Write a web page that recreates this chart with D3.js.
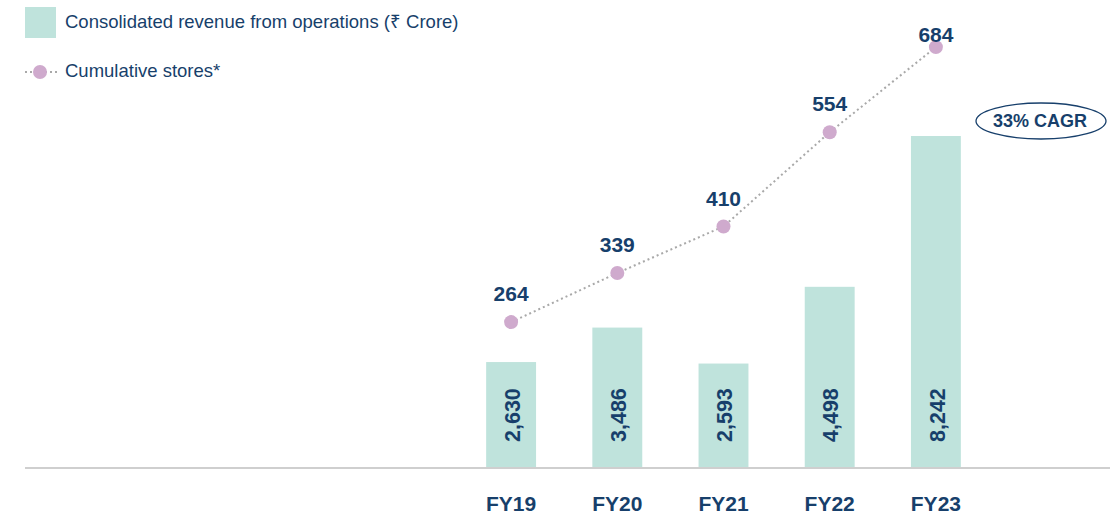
<!DOCTYPE html>
<html><head><meta charset="utf-8">
<script src="https://cdn.jsdelivr.net/npm/d3@7"></script>
<style>
html,body{margin:0;padding:0;background:#fff;}
svg{display:block;font-family:"Liberation Sans",Arial,Helvetica,sans-serif;}
</style></head>
<body><svg id="chart" width="1110" height="515"></svg>
<script>
const categories = ["FY19","FY20","FY21","FY22","FY23"];
const revenue = [2630, 3486, 2593, 4498, 8242];
const revenueLabels = ["2,630","3,486","2,593","4,498","8,242"];
const stores = [264, 339, 410, 554, 684];
const legendLabels = ["Consolidated revenue from operations (\u20B9 Crore)", "Cumulative stores*"];
const cagrLabel = "33% CAGR";

const navy = "#173f6b", barColor = "#bfe3dc", dotColor = "#cfaacd", lineGray = "#a9a9a9";
const svg = d3.select("#chart");
const baseY = 468;

const x = d3.scaleBand().domain(categories).range([458, 989]).paddingInner(0.53).paddingOuter(0.265);
const yBar = d3.scaleLinear().domain([0, 8242]).range([baseY, 136]);
const yLine = d3.scaleLinear().domain([0, 700]).range([495, 36.6]);
const cx = d => x(d) + x.bandwidth()/2;

// bars
svg.append("g").selectAll("rect").data(categories).join("rect")
  .attr("x", d => x(d)).attr("width", x.bandwidth())
  .attr("y", (d,i) => yBar(revenue[i])).attr("height", (d,i) => baseY - yBar(revenue[i]))
  .attr("fill", barColor);

// axis line
svg.append("line").attr("x1", 25).attr("x2", 1110).attr("y1", baseY).attr("y2", baseY)
  .attr("stroke", "#cfcfcf").attr("stroke-width", 2);

// x labels
svg.append("g").selectAll("text").data(categories).join("text")
  .attr("x", d => cx(d)).attr("y", 511).attr("text-anchor", "middle")
  .attr("font-size", 21).attr("font-weight", "bold").attr("fill", navy).text(d => d);

// bar value labels (rotated)
svg.append("g").selectAll("text").data(categories).join("text")
  .attr("transform", d => `translate(${cx(d)+1},442) rotate(-90)`)
  .attr("dy", "0.36em").attr("text-anchor", "start")
  .attr("font-size", 21.5).attr("font-weight", "bold").attr("fill", navy)
  .text((d,i) => revenueLabels[i]);

// dotted line
const line = d3.line().x((d,i) => cx(categories[i])).y(d => yLine(d));
svg.append("path").datum(stores).attr("d", line).attr("fill", "none")
  .attr("stroke", lineGray).attr("stroke-width", 2).attr("stroke-dasharray", "2,3");

// points
svg.append("g").selectAll("circle").data(stores).join("circle")
  .attr("cx", (d,i) => cx(categories[i])).attr("cy", d => yLine(d)).attr("r", 7)
  .attr("fill", dotColor);

// point labels
svg.append("g").selectAll("text").data(stores).join("text")
  .attr("x", (d,i) => cx(categories[i])).attr("y", d => Math.max(42, yLine(d) - 21))
  .attr("text-anchor", "middle").attr("font-size", 21).attr("font-weight", "bold")
  .attr("fill", navy).text(d => d);

// CAGR ellipse
svg.append("ellipse").attr("cx", 1041).attr("cy", 121).attr("rx", 65).attr("ry", 18)
  .attr("fill", "none").attr("stroke", navy).attr("stroke-width", 1.3);
svg.append("text").attr("x", 1040).attr("y", 127).attr("text-anchor", "middle")
  .attr("font-size", 18).attr("font-weight", "bold").attr("fill", navy).text(cagrLabel);

// legend
svg.append("rect").attr("x", 25).attr("y", 7).attr("width", 31).attr("height", 31).attr("fill", barColor);
svg.append("text").attr("x", 65).attr("y", 28).attr("font-size", 18.5).attr("fill", navy).text(legendLabels[0]);
svg.append("line").attr("x1", 25).attr("x2", 60).attr("y1", 72).attr("y2", 72)
  .attr("stroke", lineGray).attr("stroke-width", 2).attr("stroke-dasharray", "2,3");
svg.append("circle").attr("cx", 40).attr("cy", 72).attr("r", 7).attr("fill", dotColor);
svg.append("text").attr("x", 65).attr("y", 77).attr("font-size", 18.5).attr("fill", navy).text(legendLabels[1]);
</script></body></html>
